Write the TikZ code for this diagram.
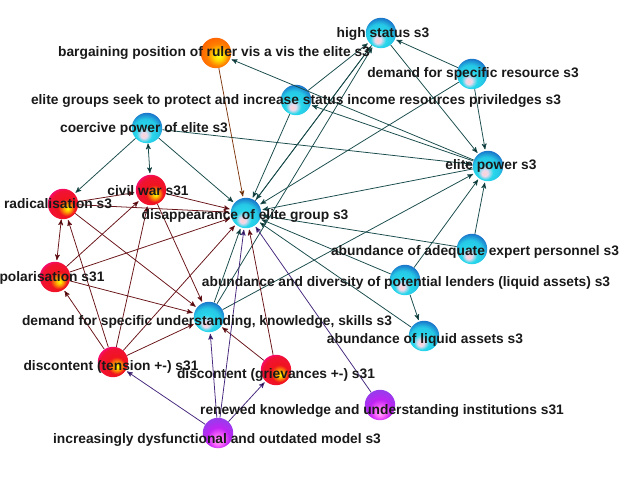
\documentclass[tikz,border=0pt]{standalone}
\usepackage{fontspec}
\setmainfont{Liberation Sans}
\usepackage{tikz}
\usetikzlibrary{arrows}
\definecolor{ballcyan}{RGB}{40,215,235}
\definecolor{ballblue}{RGB}{25,110,200}
\definecolor{ballred}{RGB}{240,20,30}
\definecolor{ballviolet}{RGB}{150,60,235}
\definecolor{tealline}{RGB}{25,75,75}
\definecolor{redline}{RGB}{105,20,25}
\definecolor{orangeline}{RGB}{130,60,20}
\definecolor{violetline}{RGB}{70,40,125}
% sphere shadings
\pgfdeclareradialshading{cyanball}{\pgfpoint{-6bp}{-13bp}}{%
  color(0bp)=(pink!70!white); color(5bp)=(violet!15!white);
  color(13bp)=(ballcyan); color(22bp)=(ballcyan!85!ballblue);
  color(31bp)=(ballblue); color(50bp)=(ballblue)}
\pgfdeclareradialshading{redball}{\pgfpoint{8bp}{-8bp}}{%
  color(0bp)=(yellow); color(6bp)=(orange!70!yellow);
  color(14bp)=(ballred); color(26bp)=(ballred!90!magenta);
  color(36bp)=(magenta!80!red); color(50bp)=(magenta!80!red)}
\pgfdeclareradialshading{orangeball}{\pgfpoint{5bp}{-5bp}}{%
  color(0bp)=(yellow!90!white); color(8bp)=(yellow!70!orange);
  color(18bp)=(orange); color(30bp)=(orange!75!red); color(50bp)=(orange!75!red)}
\pgfdeclareradialshading{violetball}{\pgfpoint{0bp}{-14bp}}{%
  color(0bp)=(magenta!35!white); color(8bp)=(magenta!60!white);
  color(18bp)=(ballviolet!60!magenta); color(30bp)=(ballviolet); color(50bp)=(ballviolet)}
\tikzset{
    %Define standard arrow tip
    >=stealth',
    %Define style for spheres
    ball/.style={
           circle,
           minimum size=0.76cm,
           inner sep=0pt},
    elite/.style={ball, shading=cyanball},
    unrest/.style={ball, shading=redball},
    ruler/.style={ball, shading=orangeball},
    model/.style={ball, shading=violetball},
    %Define style for labels
    lbl/.style={
           font=\fontsize{9.8}{11}\selectfont\bfseries,
           inner sep=0pt,
           text=black!90},
    % Define arrow styles
    tealpil/.style={->, draw=tealline, line width=0.55pt, shorten >=1pt},
    redpil/.style={->, draw=redline, line width=0.55pt, shorten >=1pt},
    orangepil/.style={->, draw=orangeline, line width=0.55pt, shorten >=1pt},
    violetpil/.style={->, draw=violetline, line width=0.55pt, shorten >=1pt}
}
\begin{document}
\begin{tikzpicture}[x=0.025cm,y=-0.025cm]
\useasboundingbox (0,0) rectangle (640,480);
% spheres
\node[elite](hs) at (381,33){};
\node[ruler](bp) at (216,53){};
\node[elite](dr) at (472,74){};
\node[elite](eg) at (296,100){};
\node[elite](cp) at (147,128){};
\node[elite](ep) at (488,166){};
\node[unrest](ra) at (63,204){};
\node[unrest](cw) at (151,190){};
\node[elite](da) at (246,213){};
\node[elite](ae) at (472,249){};
\node[unrest](po) at (55,277){};
\node[elite](ad) at (405,280){};
\node[elite](du) at (209,317){};
\node[elite](al) at (424,336){};
\node[unrest](dt) at (113,362){};
\node[unrest](dg) at (276,370){};
\node[model](rk) at (380,405){};
\node[model](id) at (218,433){};
% links
\path[tealpil]
    (cp) edge (ra)
    (cp) edge[<->] (cw)
    (cp) edge (da)
    (cp) edge (ep)
    (eg) edge (hs)
    (eg) edge (da)
    (ep) edge (bp)
    (ep) edge (eg)
    (ep) edge (da)
    (hs) edge (ep)
    (hs) edge (da)
    (da) edge (hs)
    (dr) edge (hs)
    (dr) edge (ep)
    (dr) edge (da)
    (du) edge (da)
    (du) edge (hs)
    (du) edge (ep)
    (ae) edge (ep)
    (ae) edge (da)
    (ad) edge (ep)
    (ad) edge (da)
    (ad) edge (al)
    (al) edge (da);
\path[redpil]
    (ra) edge[<->] (po)
    (ra) edge (cw)
    (ra) edge (da)
    (ra) edge (du)
    (cw) edge (da)
    (cw) edge (du)
    (po) edge (cw)
    (po) edge (da)
    (po) edge (du)
    (dt) edge (ra)
    (dt) edge (po)
    (dt) edge (cw)
    (dt) edge (da)
    (dt) edge (du)
    (dg) edge (du)
    (dg) edge (da);
\path[orangepil]
    (bp) edge (da);
\path[violetpil]
    (id) edge (dt)
    (id) edge (du)
    (id) edge (dg)
    (id) edge (da)
    (rk) edge (da);
% labels
\node[lbl](hs-t) at (383,34){high status s3};
\node[lbl](bp-t) at (214,53){bargaining position of ruler vis a vis the elite s3};
\node[lbl](dr-t) at (473,74){demand for specific resource s3};
\node[lbl](eg-t) at (296,101){elite groups seek to protect and increase status income resources priviledges s3};
\node[lbl](cp-t) at (144,129){coercive power of elite s3};
\node[lbl](ep-t) at (491,166){elite power s3};
\node[lbl](ra-t) at (58,204){radicalisation s3};
\node[lbl](cw-t) at (148,191){civil war s31};
\node[lbl](da-t) at (245,216){disappearance of elite group s3};
\node[lbl](ae-t) at (475,252){abundance of adequate expert personnel s3};
\node[lbl](po-t) at (52,278){polarisation s31};
\node[lbl](ad-t) at (406,283){abundance and diversity of potential lenders (liquid assets) s3};
\node[lbl](du-t) at (207,322){demand for specific understanding, knowledge, skills s3};
\node[lbl](al-t) at (425,340){abundance of liquid assets s3};
\node[lbl](dt-t) at (111,367){discontent (tension +-) s31};
\node[lbl](dg-t) at (276,375){discontent (grievances +-) s31};
\node[lbl](rk-t) at (382,411){renewed knowledge and understanding institutions s31};
\node[lbl](id-t) at (217,440){increasingly dysfunctional and outdated model s3};
\end{tikzpicture}
\end{document}
